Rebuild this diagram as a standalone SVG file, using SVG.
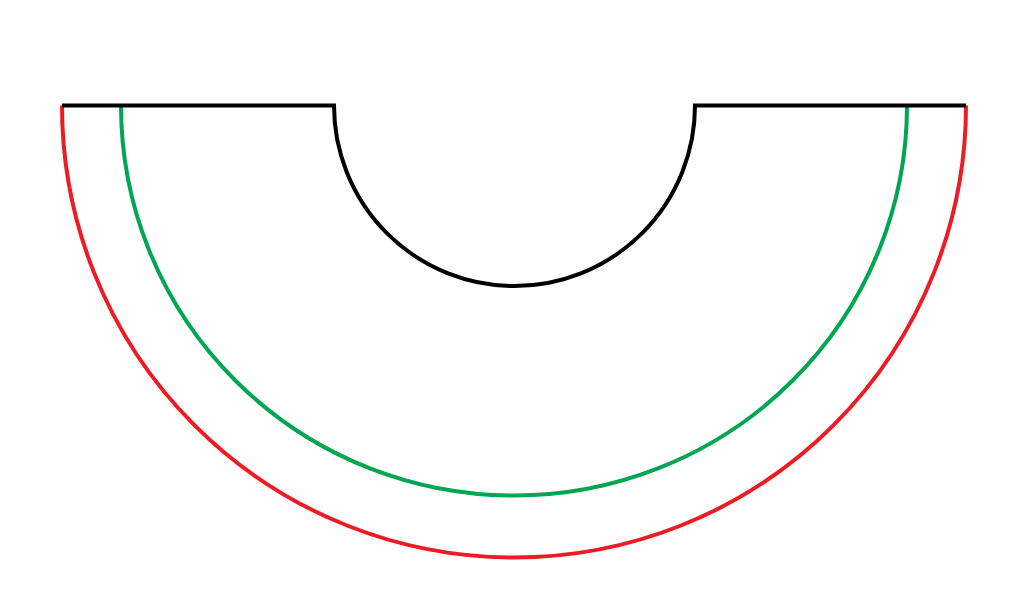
<svg xmlns="http://www.w3.org/2000/svg" width="1024" height="604" viewBox="0 0 1024 604">
<style>
.s{fill:none;stroke-width:4}
</style>
<rect width="1024" height="604" fill="#ffffff"/>
<g id="outer-arc"><path class="s" stroke="#ED1C24" d="M62,105.5 A452,452 0 0 0 966,105.5"/></g>
<g id="middle-arc"><path class="s" stroke="#00A651" d="M121,105.5 A393,390 0 0 0 907,105.5"/></g>
<g id="inner-outline"><path class="s" stroke="#000000" d="M62,105.5 H334 A180.5,180.5 0 0 0 695,105.5 H966"/></g>
</svg>
